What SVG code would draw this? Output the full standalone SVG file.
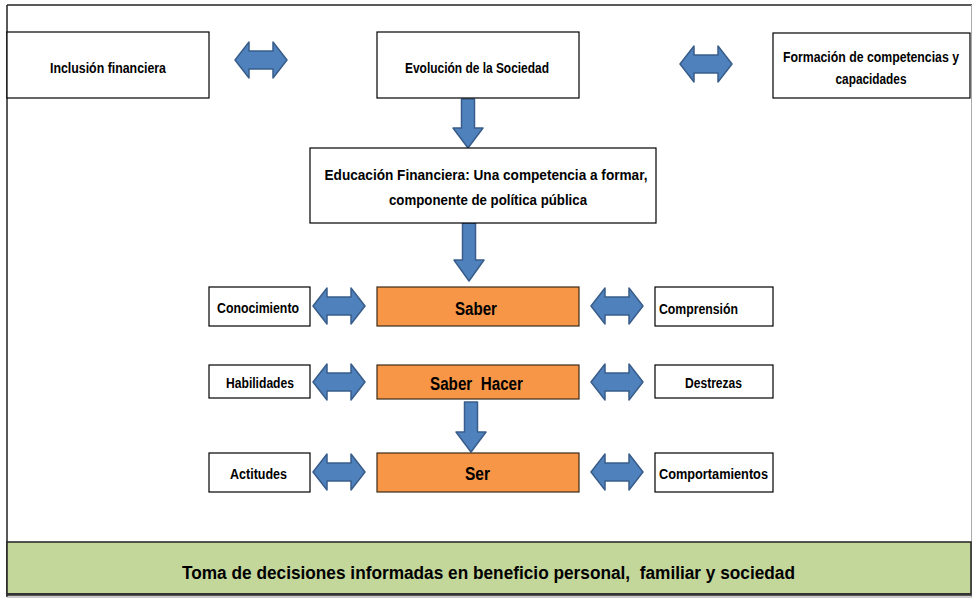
<svg xmlns="http://www.w3.org/2000/svg" xmlns:xlink="http://www.w3.org/1999/xlink" width="973" height="599" viewBox="0 0 973 599">
<style>
.box{fill:#fff;stroke:#000;stroke-width:1.2}
.org{fill:#F79646;stroke:#3a2a1a;stroke-width:1.2}
.t{font-family:"Liberation Sans",Arial,sans-serif;font-weight:bold;font-size:14px;fill:#000}
.tb{font-family:"Liberation Sans",Arial,sans-serif;font-weight:bold;font-size:18px;fill:#000;white-space:pre}
.arr{fill:#4F81BD;stroke:#385D8A;stroke-width:1.5;stroke-linejoin:round}
</style>
<defs>
<path id="dbl" class="arr" d="M-26,0 L-12,-18 L-12,-9 L12,-9 L12,-18 L26,0 L12,18 L12,9 L-12,9 L-12,18 Z"/>
</defs>
<rect x="0" y="0" width="973" height="599" fill="#fff"/>
<g id="frame">
<line x1="7" y1="5" x2="972" y2="5" stroke="#222" stroke-width="1.5"/>
<line x1="7" y1="5" x2="7" y2="597" stroke="#222" stroke-width="1.5"/>
<line x1="971.5" y1="5" x2="971.5" y2="597" stroke="#aaa" stroke-width="1"/>
<line x1="7" y1="597" x2="972" y2="597" stroke="#999" stroke-width="1"/>
</g>
<g id="connectors">
<use xlink:href="#dbl" href="#dbl" transform="translate(261,60)"/>
<use xlink:href="#dbl" href="#dbl" transform="translate(706,64)"/>
<use xlink:href="#dbl" href="#dbl" transform="translate(339,306)"/>
<use xlink:href="#dbl" href="#dbl" transform="translate(617,306)"/>
<use xlink:href="#dbl" href="#dbl" transform="translate(339,382)"/>
<use xlink:href="#dbl" href="#dbl" transform="translate(617,382)"/>
<use xlink:href="#dbl" href="#dbl" transform="translate(339,472)"/>
<use xlink:href="#dbl" href="#dbl" transform="translate(617,472)"/>
<path class="arr" d="M461.5,99 L474.5,99 L474.5,128 L483,128 L468,148 L453,128 L461.5,128 Z"/>
<path class="arr" d="M462.5,223 L475.5,223 L475.5,260 L484,260 L469,281 L454,260 L462.5,260 Z"/>
<path class="arr" d="M464.5,402 L477.5,402 L477.5,432 L486,432 L471,452 L456,432 L464.5,432 Z"/>
</g>
<g id="n-inclusion">
<rect class="box" x="7" y="32" width="202" height="66"/>
<text class="t" x="108" y="73" text-anchor="middle" textLength="116" lengthAdjust="spacingAndGlyphs">Inclusión financiera</text>
</g>
<g id="n-evolucion">
<rect class="box" x="377" y="32" width="202" height="66"/>
<text class="t" x="477" y="73" text-anchor="middle" textLength="144" lengthAdjust="spacingAndGlyphs">Evolución de la Sociedad</text>
</g>
<g id="n-formacion">
<rect class="box" x="773" y="33" width="197" height="65"/>
<text class="t" x="871" y="62" text-anchor="middle" font-size="12" textLength="176" lengthAdjust="spacingAndGlyphs">Formación de competencias y</text>
<text class="t" x="871" y="84" text-anchor="middle" textLength="71" lengthAdjust="spacingAndGlyphs">capacidades</text>
</g>
<g id="n-educacion">
<rect class="box" x="310" y="148" width="346" height="75"/>
<text class="t" x="486" y="180" text-anchor="middle" textLength="323" lengthAdjust="spacingAndGlyphs">Educación Financiera: Una competencia a formar,</text>
<text class="t" x="488" y="205" text-anchor="middle" textLength="198" lengthAdjust="spacingAndGlyphs">componente de política pública</text>
</g>
<g id="n-saber">
<rect class="org" x="377" y="287" width="202" height="39"/>
<text class="tb" x="476" y="315" text-anchor="middle" textLength="42" lengthAdjust="spacingAndGlyphs">Saber</text>
</g>
<g id="n-conocimiento">
<rect class="box" x="209" y="287" width="101" height="39"/>
<text class="t" x="258" y="313" text-anchor="middle" textLength="82" lengthAdjust="spacingAndGlyphs">Conocimiento</text>
</g>
<g id="n-comprension">
<rect class="box" x="655" y="287" width="118" height="39"/>
<text class="t" x="659" y="314" textLength="79" lengthAdjust="spacingAndGlyphs">Comprensión</text>
</g>
<g id="n-saberhacer">
<rect class="org" x="377" y="365" width="202" height="34"/>
<text class="tb" x="476.5" y="390" text-anchor="middle" textLength="93" lengthAdjust="spacingAndGlyphs" xml:space="preserve">Saber  Hacer</text>
</g>
<g id="n-habilidades">
<rect class="box" x="209" y="365" width="101" height="33"/>
<text class="t" x="260" y="388" text-anchor="middle" textLength="68" lengthAdjust="spacingAndGlyphs">Habilidades</text>
</g>
<g id="n-destrezas">
<rect class="box" x="655" y="365" width="118" height="33"/>
<text class="t" x="713.5" y="388" text-anchor="middle" textLength="57" lengthAdjust="spacingAndGlyphs">Destrezas</text>
</g>
<g id="n-ser">
<rect class="org" x="377" y="453" width="202" height="39"/>
<text class="tb" x="477.5" y="480" text-anchor="middle" textLength="25" lengthAdjust="spacingAndGlyphs">Ser</text>
</g>
<g id="n-actitudes">
<rect class="box" x="209" y="453" width="101" height="39"/>
<text class="t" x="258.5" y="479" text-anchor="middle" textLength="57" lengthAdjust="spacingAndGlyphs">Actitudes</text>
</g>
<g id="n-comportamientos">
<rect class="box" x="655" y="453" width="118" height="39"/>
<text class="t" x="713.5" y="479" text-anchor="middle" textLength="109" lengthAdjust="spacingAndGlyphs">Comportamientos</text>
</g>
<g id="n-toma">
<rect x="7" y="542" width="964" height="53" fill="#C4D79B" stroke="#222" stroke-width="1.5"/>
<line x1="7" y1="594" x2="971" y2="594" stroke="#333" stroke-width="2"/>
<text class="tb" x="488.5" y="579" text-anchor="middle" font-size="19" textLength="613" lengthAdjust="spacingAndGlyphs" xml:space="preserve">Toma de decisiones informadas en beneficio personal,  familiar y sociedad</text>
</g>
</svg>
